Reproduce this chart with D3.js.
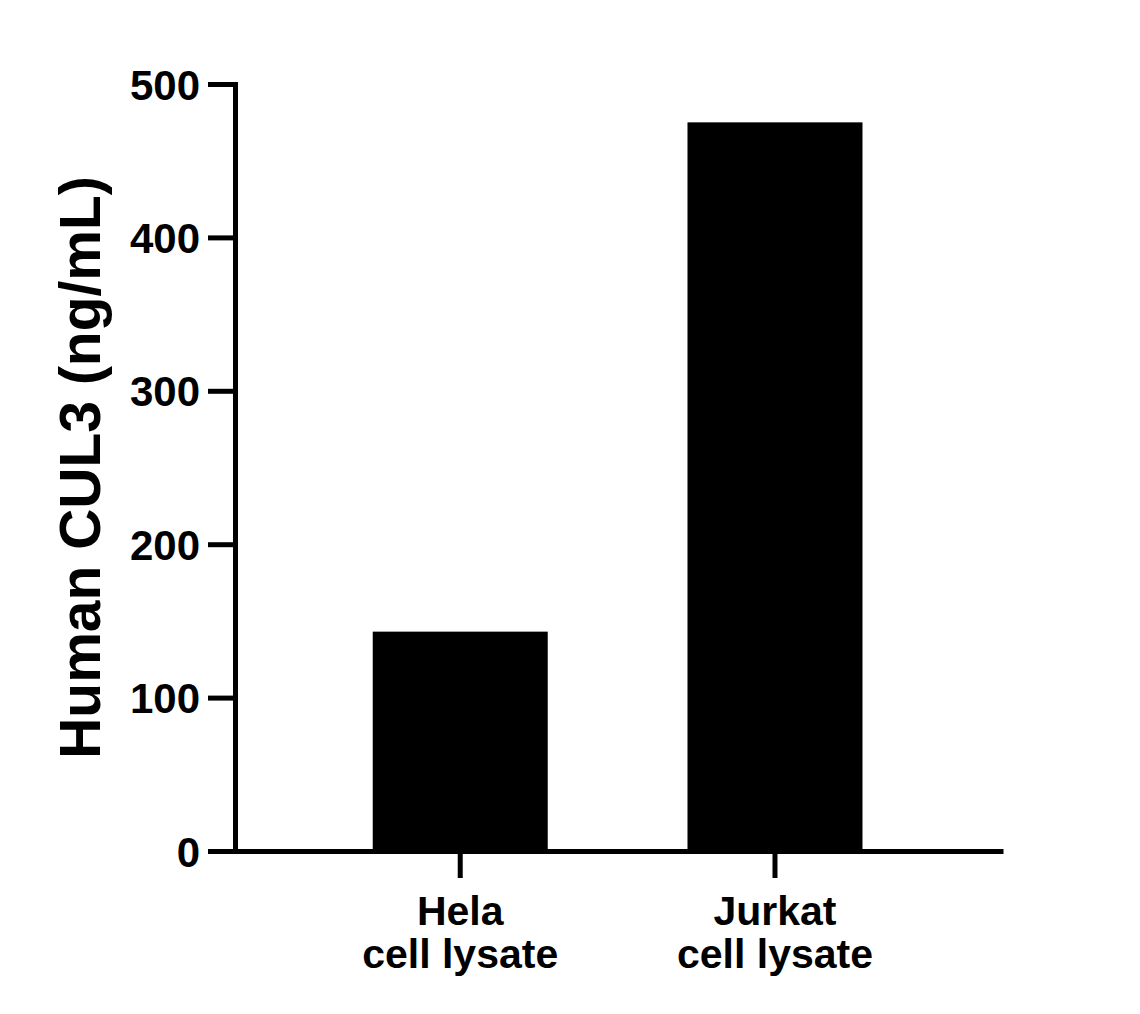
<!DOCTYPE html>
<html>
<head>
<meta charset="utf-8">
<script src="https://cdn.jsdelivr.net/npm/d3@7"></script>
<style>
  html, body { margin: 0; padding: 0; background: #fff; }
  svg { display: block; }
  text { font-family: "Liberation Sans", Arial, Helvetica, sans-serif; font-weight: bold; fill: #000; }
</style>
</head>
<body>
<svg id="chart" width="1140" height="1014"></svg>
<script>
const categories = ["Hela", "Jurkat"];
const categoryLines = [["Hela", "cell lysate"], ["Jurkat", "cell lysate"]];
const values = [143, 475];
const yTicks = [0, 100, 200, 300, 400, 500];
const yTitle = "Human CUL3 (ng/mL)";

const svg = d3.select("#chart");

const x = d3.scaleBand()
  .domain(categories)
  .range([235, 1003])
  .paddingInner(0.444)
  .paddingOuter(0.442)
  .align(0.495);

const y = d3.scaleLinear()
  .domain([0, 500])
  .range([851, 84]);

// bars
svg.append("g")
  .selectAll("rect")
  .data(values)
  .join("rect")
  .attr("x", (d, i) => x(categories[i]))
  .attr("width", x.bandwidth())
  .attr("y", d => y(d))
  .attr("height", d => y(0) - y(d))
  .attr("fill", "#000");

// y axis
const yAxis = svg.append("g")
  .attr("transform", "translate(235,0)")
  .call(d3.axisLeft(y).tickValues(yTicks).tickSize(27).tickSizeOuter(0).tickPadding(8));
yAxis.select(".domain").attr("stroke", "#000").attr("stroke-width", 5).attr("stroke-linecap", "square");
yAxis.selectAll(".tick line").attr("stroke", "#000").attr("stroke-width", 5);
yAxis.selectAll(".tick text")
  .attr("font-size", 42)
  .attr("font-family", null)
  .attr("dy", "0.36em");

// x axis
const xAxis = svg.append("g")
  .attr("transform", "translate(0,851)")
  .call(d3.axisBottom(x).tickSize(27).tickSizeOuter(0).tickFormat(() => ""));
xAxis.select(".domain").attr("stroke", "#000").attr("stroke-width", 5);
xAxis.selectAll(".tick line").attr("stroke", "#000").attr("stroke-width", 5);

// x labels (two lines)
const lbl = svg.append("g");
categories.forEach((c, i) => {
  const t = lbl.append("text")
    .attr("text-anchor", "middle")
    .attr("font-size", 41)
    .attr("x", x(c) + x.bandwidth() / 2)
    .attr("y", 925);
  categoryLines[i].forEach((line, j) => {
    t.append("tspan")
      .attr("x", x(c) + x.bandwidth() / 2)
      .attr("dy", j === 0 ? 0 : 43)
      .text(line);
  });
});

// y title
svg.append("text")
  .attr("text-anchor", "middle")
  .attr("font-size", 57)
  .attr("transform", `translate(100,${(y(0) + y(500)) / 2}) rotate(-90)`)
  .text(yTitle);
</script>
</body>
</html>
